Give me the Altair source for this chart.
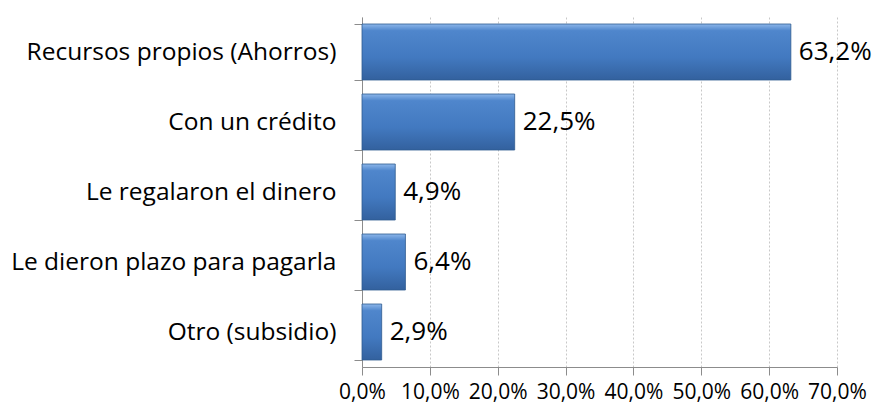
import altair as alt
import pandas as pd

categories = ["Recursos propios (Ahorros)", "Con un crédito", "Le regalaron el dinero",
              "Le dieron plazo para pagarla", "Otro (subsidio)"]
values = [63.2, 22.5, 4.9, 6.4, 2.9]
labels = ["63,2%", "22,5%", "4,9%", "6,4%", "2,9%"]
x_ticks = [0, 10, 20, 30, 40, 50, 60, 70]

df = pd.DataFrame({"cat": categories, "val": values, "lab": labels})

FONT = "Open Sans"

gradient = alt.Gradient(
    gradient="linear",
    stops=[
        alt.GradientStop(color="#8cb6ea", offset=0),
        alt.GradientStop(color="#4f86cc", offset=0.12),
        alt.GradientStop(color="#4279c0", offset=0.6),
        alt.GradientStop(color="#33619e", offset=1),
    ],
    x1=0, x2=0, y1=0, y2=1,
)

y_enc = alt.Y("cat:N", sort=categories, title=None,
              scale=alt.Scale(paddingInner=0.2, paddingOuter=0.1),
              axis=alt.Axis(tickBand="extent", labelFont=FONT, labelFontSize=24.5,
                            labelColor="#000000", domainColor="#8c8c8c", tickColor="#8c8c8c",
                            tickSize=8, labelPadding=18, labelLimit=400))

x_enc = alt.X("val:Q", title=None,
              scale=alt.Scale(domain=[0, 70], nice=False),
              axis=alt.Axis(values=x_ticks, labelFont=FONT, labelFontSize=21, labelColor="#000000",
                            labelExpr="replace(format(datum.value, '.1f'), '.', ',') + '%'",
                            labelOverlap=False, labelFlush=False,
                            domainColor="#8c8c8c", tickColor="#8c8c8c", tickSize=8,
                            labelPadding=6, grid=True, gridColor="#c8c8c8", gridDash=[2, 2]))

bars = alt.Chart(df).mark_bar(fill=gradient, stroke="#2f5a8f", strokeWidth=0.8).encode(
    x=x_enc, y=y_enc)

text = alt.Chart(df).mark_text(align="left", baseline="middle", dx=8, font=FONT,
                               fontSize=26, color="#000000").encode(
    x=alt.X("val:Q"), y=alt.Y("cat:N", sort=categories), text="lab:N")

chart = (bars + text).properties(
    width=475, height=350,
    autosize=alt.AutoSizeParams(type="none"),
    padding={"left": 354, "top": 9, "right": 42, "bottom": 50},
).configure_view(stroke=None).configure_axisY(grid=False)

chart.save("out.html", embed_options={"renderer": "svg", "actions": False})
